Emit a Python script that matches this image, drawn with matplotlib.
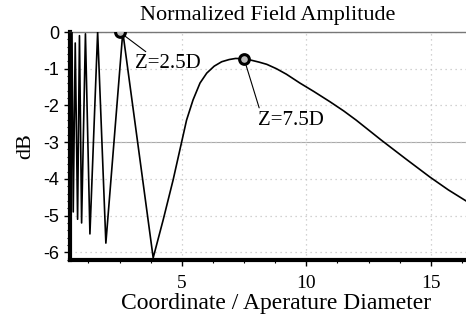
import numpy as np
import matplotlib.pyplot as plt
from matplotlib.ticker import MultipleLocator

plt.rcParams['font.family'] = ['Liberation Serif', 'DejaVu Serif']
plt.rcParams['axes.unicode_minus'] = False

# on-axis field, normalized, in dB vs distance / aperture diameter
z_over_d = [0.51, 0.55, 0.59, 0.64, 0.72, 0.815, 0.89, 0.976, 1.13, 1.31,
            1.62, 1.95, 2.63, 3.85, 4.25, 4.65, 5.19, 5.45, 5.73, 6.0,
            6.3, 6.6, 6.9, 7.16, 7.5, 7.8, 8.1, 8.41, 8.8, 9.2,
            9.74, 10.3, 10.95, 11.5, 12.0, 12.5, 13.0, 14.0, 14.96, 15.7,
            16.41]
field_db = [0.0, -4.6, 0.0, -4.9, -0.3, -5.1, -0.1, -5.2, -0.05, -5.5,
            0.0, -5.75, 0.0, -6.15, -5.12, -4.03, -2.40, -1.85, -1.39, -1.12,
            -0.93, -0.81, -0.75, -0.72, -0.73, -0.77, -0.82, -0.88, -1.0, -1.15,
            -1.39, -1.62, -1.9, -2.15, -2.40, -2.67, -2.94, -3.46, -3.95, -4.3,
            -4.6]

# marked maxima
peak_z = [2.5, 7.5]
peak_db = [0.0, -0.73]
label_pos = [(3.12, -0.87), (8.06, -2.4)]
label_rel = [(0.22, 1.0), (0.03, 1.0)]

fig = plt.figure(figsize=(4.66, 3.25), dpi=100)
ax = fig.add_axes([0.150, 0.200, 0.850, 0.7015])

ax.plot(z_over_d, field_db, color='black', lw=1.2, zorder=3)
ax.plot(peak_z, peak_db, 'o', ms=7, mfc='#bbbbbb', mec='black', mew=2.2, zorder=4)

for z, db, pos, rel in zip(peak_z, peak_db, label_pos, label_rel):
    ax.annotate(f'Z={z}D', xy=(z, db), xytext=pos, textcoords='data',
                ha='left', va='center', fontsize=15,
                arrowprops=dict(arrowstyle='-', color='black', lw=0.8,
                                relpos=rel, shrinkA=0, shrinkB=5))

ax.set_xlim(0.506, 16.41)
ax.set_ylim(-6.21, 0)
ax.xaxis.set_major_locator(MultipleLocator(5))
ax.xaxis.set_minor_locator(MultipleLocator(1.25))
ax.yaxis.set_major_locator(MultipleLocator(1))
ax.yaxis.set_minor_locator(MultipleLocator(0.2))

ax.grid(True, which='major', color='#c4c4c4', ls=(0, (1, 3)), lw=0.9)
ax.axhline(-3, color='#aaaaaa', lw=0.8, zorder=1)

for side in ['left', 'bottom']:
    ax.spines[side].set_linewidth(3)
ax.spines['top'].set_color('#777777')
ax.spines['top'].set_linewidth(1)
ax.spines['right'].set_visible(False)

ax.tick_params(which='major', direction='out', length=4, width=1, labelsize=14)
ax.tick_params(axis='x', which='major', pad=7)
ax.tick_params(which='minor', direction='out', length=2, width=0.8)
for lab in ax.get_yticklabels():
    lab.set_family(['Liberation Sans', 'DejaVu Sans'])
    lab.set_fontsize(13)

ax.set_title('Normalized Field Amplitude', fontsize=16, pad=9)
ax.set_xlabel('Coordinate / Aperature Diameter', fontsize=17)
ax.xaxis.set_label_coords(0.52, -0.145)
ax.set_ylabel('dB', fontsize=16, labelpad=6)

fig.savefig('out.png', dpi=100)
